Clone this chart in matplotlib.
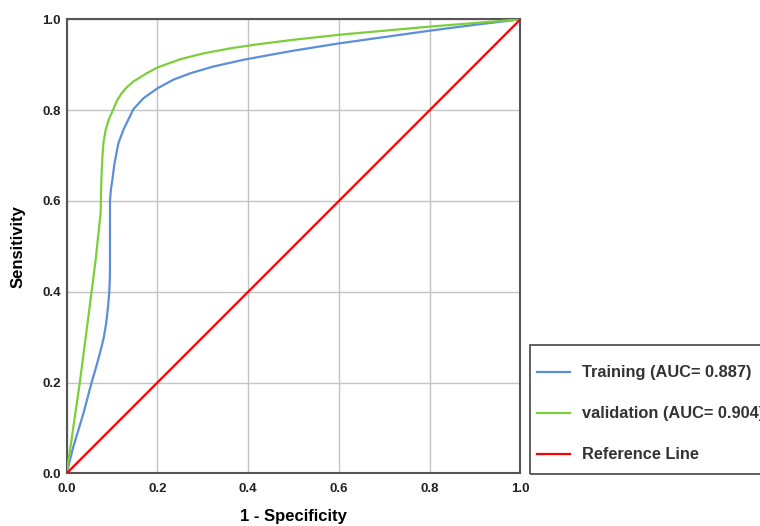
import matplotlib
matplotlib.use('Agg')
import matplotlib.pyplot as plt
from matplotlib.patches import Rectangle

plt.rcParams['font.family'] = ['Liberation Sans', 'DejaVu Sans']

# ROC points (1 - specificity, sensitivity)
train_fpr = [0.0, 0.0147, 0.037, 0.055, 0.068, 0.076, 0.082, 0.087, 0.091, 0.094, 0.0952,
             0.0955, 0.0955, 0.0975, 0.1007, 0.105, 0.114, 0.125, 0.147, 0.169, 0.2,
             0.235, 0.272, 0.323, 0.39, 0.45, 0.5, 0.6, 0.7, 0.8, 0.9, 1.0]
train_tpr = [0.0, 0.0586, 0.132, 0.2, 0.245, 0.275, 0.30, 0.33, 0.365, 0.4, 0.43,
             0.463, 0.6, 0.625, 0.646, 0.68, 0.727, 0.7565, 0.802, 0.826, 0.848,
             0.867, 0.881, 0.896, 0.911, 0.922, 0.931, 0.947, 0.961, 0.975, 0.988, 1.0]

valid_fpr = [0.0, 0.029, 0.055, 0.064, 0.075, 0.0757, 0.077, 0.079, 0.081, 0.086,
             0.093, 0.103, 0.111, 0.121, 0.133, 0.147, 0.176, 0.2, 0.25, 0.301,
             0.36, 0.42, 0.5, 0.6, 0.7, 0.8, 0.9, 1.0]
valid_tpr = [0.0, 0.2, 0.4, 0.471, 0.575, 0.62, 0.66, 0.70, 0.727, 0.7565,
             0.78, 0.802, 0.821, 0.837, 0.851, 0.863, 0.881, 0.894, 0.912, 0.925,
             0.936, 0.945, 0.955, 0.966, 0.975, 0.984, 0.992, 1.0]

ref_x = [0.0, 1.0]
ref_y = [0.0, 1.0]

labels = ['Training (AUC= 0.887)', 'validation (AUC= 0.904)', 'Reference Line']
colors = ['#5b8fd9', '#7ccf3a', '#ff0000']
ticks = [0.0, 0.2, 0.4, 0.6, 0.8, 1.0]

fig = plt.figure(figsize=(7.6, 5.26), dpi=100)
ax = fig.add_axes([0.0877, 0.1002, 0.597, 0.863])

l1, = ax.plot(train_fpr, train_tpr, color=colors[0], lw=1.6, zorder=3,
              solid_joinstyle='round')
l2, = ax.plot(valid_fpr, valid_tpr, color=colors[1], lw=1.6, zorder=3,
              solid_joinstyle='round')
l3, = ax.plot(ref_x, ref_y, color=colors[2], lw=1.6, zorder=3)

ax.set_xlim(0, 1)
ax.set_ylim(0, 1)
ax.set_xticks(ticks)
ax.set_yticks(ticks)
ax.set_xticklabels(['%.1f' % t for t in ticks])
ax.set_yticklabels(['%.1f' % t for t in ticks])
ax.tick_params(axis='x', length=0, labelsize=9.5, pad=7)
ax.tick_params(axis='y', length=0, labelsize=9.5, pad=4)
for lab in ax.get_xticklabels() + ax.get_yticklabels():
    lab.set_fontweight('bold')
    lab.set_color('#222222')
ax.grid(True, color='#c4c4c4', lw=1.0)
ax.set_axisbelow(True)
for s in ax.spines.values():
    s.set_color('#555555')
    s.set_linewidth(1.5)

ax.set_xlabel('1 - Specificity', fontsize=12, fontweight='bold', labelpad=10)
ax.set_ylabel('Sensitivity', fontsize=12, fontweight='bold', labelpad=12)

# legend box, runs past the right edge like the original
box = Rectangle((529.7 / 760, 1 - 474 / 526), 0.5, (474 - 345.3) / 526,
                transform=fig.transFigure, fill=False, edgecolor='#444444', lw=1.2)
fig.patches.append(box)
fig.legend([l1, l2, l3], labels, loc='upper left', frameon=False,
           bbox_to_anchor=(537 / 760, 1 - 365.5 / 526), borderpad=0, borderaxespad=0,
           handlelength=2.03, handletextpad=0.71, labelspacing=1.58,
           prop={'size': 11.8, 'weight': 'bold'}, labelcolor='#333333')

fig.savefig('out.png', dpi=100)
